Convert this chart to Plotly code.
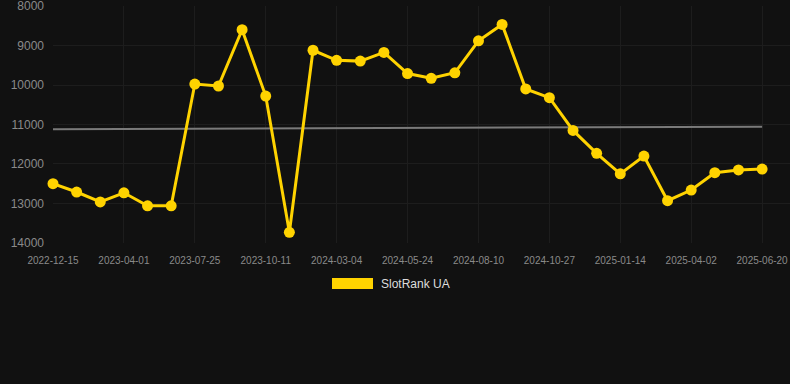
import plotly.graph_objects as go

tick_labels = ["2022-12-15", "2023-04-01", "2023-07-25", "2023-10-11", "2024-03-04",
               "2024-05-24", "2024-08-10", "2024-10-27", "2025-01-14", "2025-04-02", "2025-06-20"]
rank_values = [12500, 12710, 12960, 12730, 13060, 13060, 9975, 10025, 8600, 10280,
               13730, 9120, 9375, 9395, 9175, 9710, 9830, 9690, 8880, 8465,
               10100, 10320, 11150, 11730, 12250, 11800, 12930, 12660, 12220, 12150, 12130]
trend_values = [11120, 11055]
y_ticks = [8000, 9000, 10000, 11000, 12000, 13000, 14000]
series_name = "SlotRank UA"

n = len(rank_values)
idx = list(range(n))
tick_idx = list(range(0, n, 3))

YELLOW = "#FFD300"
BG = "#111111"
GRID = "#1d1d1d"

fig = go.Figure()
fig.add_trace(go.Scatter(x=[0, n - 1], y=trend_values, mode="lines",
                         line=dict(color="#7a7a7a", width=2), showlegend=False, hoverinfo="skip"))
fig.add_trace(go.Scatter(x=idx, y=rank_values, mode="lines+markers", name=series_name,
                         line=dict(color=YELLOW, width=3), cliponaxis=False,
                         marker=dict(color=YELLOW, size=11), showlegend=False))

fig.update_layout(
    width=790, height=384,
    paper_bgcolor=BG, plot_bgcolor=BG,
    margin=dict(l=53, r=0, t=6, b=141),
    font=dict(family="Liberation Sans, Arial", color="#888888"),
    xaxis=dict(range=[0, 31.18], tickmode="array", tickvals=tick_idx, ticktext=tick_labels,
               showgrid=True, gridcolor=GRID, gridwidth=1, zeroline=False, showline=False,
               tickfont=dict(size=10, color="#8a8a8a"), ticks="", ticklabelstandoff=10,
               ticklabeloverflow="allow"),
    yaxis=dict(range=[14001, 7999], tickmode="array", tickvals=y_ticks,
               ticktext=[str(v) for v in y_ticks],
               showgrid=True, gridcolor=GRID, gridwidth=1, zeroline=False, showline=False,
               tickfont=dict(size=12, color="#8a8a8a"), ticks="", ticklabelstandoff=8,
               ticklabeloverflow="allow"),
    shapes=[dict(type="rect", xref="paper", yref="paper",
                 x0=(332 - 53) / 737, x1=(373 - 53) / 737,
                 y0=(384 - 141 - 289) / 237, y1=(384 - 141 - 278) / 237,
                 fillcolor=YELLOW, line=dict(width=0))],
    annotations=[dict(text=series_name, xref="paper", yref="paper",
                      x=(379 - 53) / 737, y=(384 - 141 - 284) / 237,
                      xanchor="left", yanchor="middle", showarrow=False,
                      font=dict(size=12, color="#dddddd"))],
)

fig.write_html("out.html", config={"displayModeBar": False},
               post_script="document.body.style.margin='0';document.body.style.background='#111111';")
